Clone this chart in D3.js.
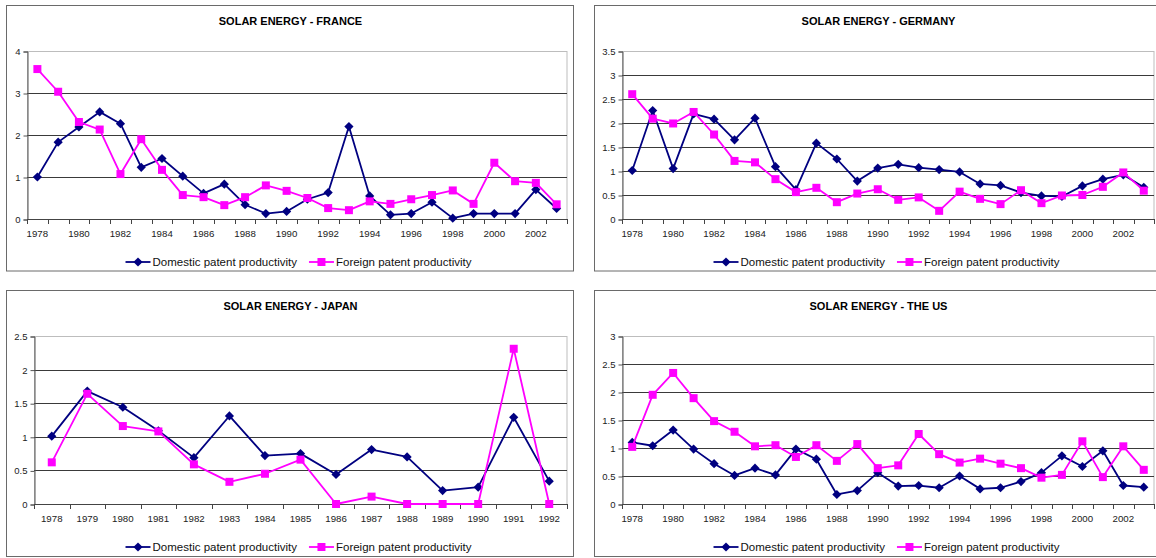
<!DOCTYPE html>
<html><head><meta charset="utf-8">
<script src="https://cdn.jsdelivr.net/npm/d3@7"></script>
<style>html,body{margin:0;padding:0;background:#fff;}svg{display:block;font-family:"Liberation Sans",Arial,sans-serif;}</style>
</head><body>
<svg id="c" width="1156" height="558"></svg>
<script>
// ---- DATA ----
const yearsLong = [1978,1979,1980,1981,1982,1983,1984,1985,1986,1987,1988,1989,1990,1991,1992,1993,1994,1995,1996,1997,1998,1999,2000,2001,2002,2003];
const yearsJapan = [1978,1979,1980,1981,1982,1983,1984,1985,1986,1987,1988,1989,1990,1991,1992];
const seriesNames = ["Domestic patent productivity", "Foreign patent productivity"];
const titles = ["SOLAR ENERGY - FRANCE", "SOLAR ENERGY - GERMANY", "SOLAR ENERGY - JAPAN", "SOLAR ENERGY - THE US"];

const franceDomestic = [1.0,1.83,2.19,2.55,2.27,1.23,1.44,1.02,0.61,0.83,0.34,0.13,0.18,0.47,0.63,2.2,0.55,0.1,0.13,0.4,0.02,0.13,0.13,0.13,0.7,0.25];
const franceForeign  = [3.57,3.03,2.31,2.13,1.07,1.9,1.17,0.57,0.52,0.33,0.52,0.8,0.67,0.5,0.26,0.21,0.42,0.36,0.47,0.57,0.68,0.36,1.34,0.9,0.86,0.35];
const germanyDomestic = [1.01,2.26,1.05,2.19,2.08,1.65,2.1,1.09,0.61,1.58,1.25,0.79,1.06,1.14,1.07,1.03,0.98,0.73,0.7,0.55,0.48,0.47,0.69,0.83,0.92,0.66];
const germanyForeign  = [2.6,2.09,1.99,2.23,1.76,1.21,1.18,0.83,0.56,0.65,0.35,0.53,0.62,0.4,0.45,0.17,0.57,0.42,0.31,0.6,0.33,0.49,0.5,0.67,0.97,0.59];
const japanDomestic = [1.01,1.68,1.44,1.09,0.69,1.31,0.72,0.75,0.44,0.81,0.7,0.2,0.25,1.29,0.34];
const japanForeign  = [0.62,1.64,1.16,1.08,0.59,0.33,0.45,0.66,0.0,0.11,0.0,0.0,0.0,2.31,0.0];
const usDomestic = [1.1,1.04,1.32,0.98,0.72,0.51,0.64,0.52,0.98,0.8,0.17,0.24,0.56,0.32,0.33,0.29,0.5,0.27,0.29,0.4,0.56,0.86,0.67,0.95,0.33,0.3];
const usForeign  = [1.02,1.95,2.34,1.89,1.48,1.29,1.03,1.05,0.84,1.05,0.77,1.07,0.64,0.69,1.25,0.89,0.74,0.81,0.72,0.64,0.47,0.52,1.12,0.48,1.03,0.61];

const yTicksFrance = [0,1,2,3,4];
const yTicksGermany = [0,0.5,1,1.5,2,2.5,3,3.5];
const yTicksJapan = [0,0.5,1,1.5,2,2.5];
const yTicksUS = [0,0.5,1,1.5,2,2.5,3];
const xLabelsLong = [1978,1980,1982,1984,1986,1988,1990,1992,1994,1996,1998,2000,2002];
const xLabelsJapan = yearsJapan;

// ---- LAYOUT ----
const colors = ["#000080", "#ff00ff"];
const panels = [
  {title: titles[0], years: yearsLong, dom: franceDomestic, forn: franceForeign, yTicks: yTicksFrance, xLabels: xLabelsLong,
   box: {x: 6.5, y: 5.5, w: 567, h: 265.5}, plot: {l: 27, r: 567, t: 51, b: 219}},
  {title: titles[1], years: yearsLong, dom: germanyDomestic, forn: germanyForeign, yTicks: yTicksGermany, xLabels: xLabelsLong,
   box: {x: 594.5, y: 5.5, w: 570, h: 265.5}, plot: {l: 622, r: 1154, t: 51, b: 219}},
  {title: titles[2], years: yearsJapan, dom: japanDomestic, forn: japanForeign, yTicks: yTicksJapan, xLabels: xLabelsJapan,
   box: {x: 6.5, y: 290.5, w: 567, h: 266}, plot: {l: 34, r: 567, t: 336, b: 504}},
  {title: titles[3], years: yearsLong, dom: usDomestic, forn: usForeign, yTicks: yTicksUS, xLabels: xLabelsLong,
   box: {x: 594.5, y: 290.5, w: 570, h: 266}, plot: {l: 622, r: 1154, t: 336, b: 504}}
];

const svg = d3.select("#c");

panels.forEach(p => {
  const g = svg.append("g");
  // outer border
  g.append("rect").attr("x", p.box.x).attr("y", p.box.y).attr("width", p.box.w).attr("height", p.box.h)
    .attr("fill", "#fff").attr("stroke", "#6a6a6a").attr("stroke-width", 1);

  // title
  g.append("text").attr("x", p.box.x + 284).attr("y", p.box.y + 19.5)
    .attr("text-anchor", "middle").attr("font-size", "11px").attr("font-weight", "bold").attr("fill", "#000")
    .text(p.title);

  const x = d3.scaleBand().domain(p.years).range([p.plot.l, p.plot.r]).padding(0);
  const yMax = d3.max(p.yTicks);
  const y = d3.scaleLinear().domain([0, yMax]).range([p.plot.b, p.plot.t]);

  // plot area border
  g.append("rect").attr("x", p.plot.l + 0.5).attr("y", p.plot.t + 0.5)
    .attr("width", p.plot.r - p.plot.l - 0.5).attr("height", p.plot.b - p.plot.t)
    .attr("fill", "none").attr("stroke", "#bdbdbd").attr("stroke-width", 1);

  // gridlines
  g.append("g").selectAll("line").data(p.yTicks.filter(v => v > 0 && v < yMax)).join("line")
    .attr("x1", p.plot.l).attr("x2", p.plot.r)
    .attr("y1", d => Math.round(y(d)) + 0.5).attr("y2", d => Math.round(y(d)) + 0.5)
    .attr("stroke", "#3a3a3a").attr("stroke-width", 1);

  // y axis
  const yAxis = d3.axisLeft(y).tickValues(p.yTicks).tickSize(4).tickPadding(3).tickFormat(d3.format("~g"));
  const ya = g.append("g").attr("transform", `translate(${p.plot.l + 0.5},0.5)`).call(yAxis);
  ya.select(".domain").attr("stroke", "#555");
  ya.selectAll(".tick line").attr("stroke", "#555");
  ya.selectAll(".tick text").attr("font-size", "9.5px").attr("fill", "#222").attr("font-family", "Liberation Sans, Arial, sans-serif");

  // x axis: ticks between categories
  const bounds = p.years.map(v => x(v)).concat([x(p.years[p.years.length - 1]) + x.bandwidth()]);
  const xa = g.append("g");
  xa.append("line").attr("x1", p.plot.l).attr("x2", p.plot.r)
    .attr("y1", p.plot.b + 0.5).attr("y2", p.plot.b + 0.5).attr("stroke", "#444");
  xa.selectAll("line.tk").data(bounds).join("line").attr("class", "tk")
    .attr("x1", d => Math.round(d) + 0.5).attr("x2", d => Math.round(d) + 0.5)
    .attr("y1", p.plot.b).attr("y2", p.plot.b + 5).attr("stroke", "#444");
  xa.selectAll("text").data(p.xLabels).join("text")
    .attr("x", d => x(d) + x.bandwidth() / 2).attr("y", p.plot.b + 17.5)
    .attr("text-anchor", "middle").attr("font-size", "9.7px").attr("fill", "#222")
    .text(d => d);

  // series
  const line = d3.line().x((d, i) => x(p.years[i]) + x.bandwidth() / 2).y(d => y(d));
  const series = [p.dom, p.forn];
  series.forEach((vals, si) => {
    g.append("path").datum(vals).attr("d", line).attr("fill", "none")
      .attr("stroke", colors[si]).attr("stroke-width", 1.8).attr("stroke-linejoin", "round");
    const sym = si === 0 ? d3.symbolDiamond2 : d3.symbolSquare2;
    const size = si === 0 ? 42 : 64;
    g.append("g").selectAll("path").data(vals).join("path")
      .attr("transform", (d, i) => `translate(${x(p.years[i]) + x.bandwidth() / 2},${y(d)})`)
      .attr("d", d => {
        if (si === 0) { const h = 4.6; return `M0,${-h}L${h},0L0,${h}L${-h},0Z`; }
        return "M-4,-4H4V4H-4Z";
      })
      .attr("fill", colors[si]);
  });

  // legend
  const ly = p.box.y + 256.5;
  const lg = g.append("g");
  const items = [];
  let cx = 0;
  seriesNames.forEach((name, si) => {
    const it = lg.append("g");
    it.append("line").attr("x1", 0).attr("x2", 25).attr("y1", 0).attr("y2", 0)
      .attr("stroke", colors[si]).attr("stroke-width", 1.8);
    if (si === 0) it.append("path").attr("d", "M12.5,-4.6L17.1,0L12.5,4.6L7.9,0Z").attr("fill", colors[si]);
    else it.append("path").attr("d", "M8.5,-4H16.5V4H8.5Z").attr("fill", colors[si]);
    const t = it.append("text").attr("x", 27).attr("y", 4).attr("font-size", "11.5px").attr("fill", "#111").text(name);
    const w = 27 + t.node().getComputedTextLength();
    items.push({it, w});
  });
  const gap = 12;
  const total = items[0].w + gap + items[1].w;
  let start = p.box.x + 292 - total / 2;
  items.forEach(o => { o.it.attr("transform", `translate(${start},${ly})`); start += o.w + gap; });
});
</script>
</body></html>
